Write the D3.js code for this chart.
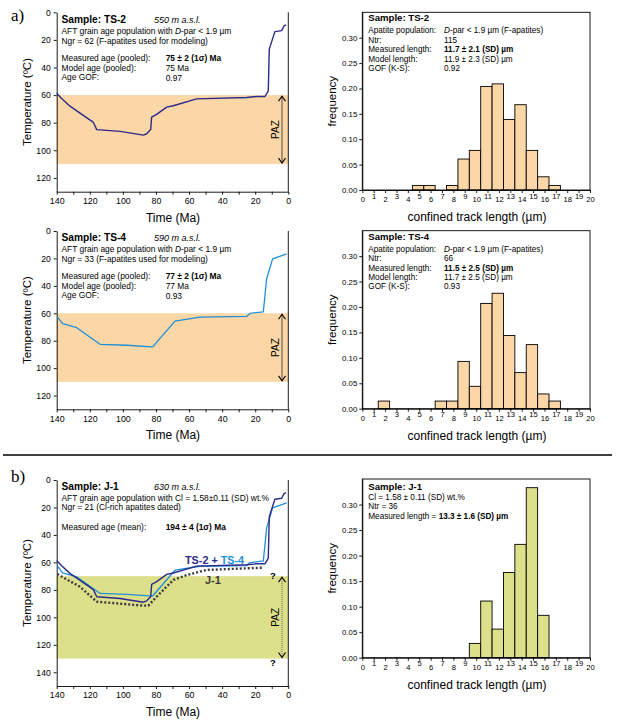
<!DOCTYPE html>
<meta charset="utf-8">
<style>
body { margin: 0; background: #fff; }
svg { font-family: "Liberation Sans", Arial, sans-serif; }
.axis path, .axis line { stroke: #000; stroke-width: 0.9; }
.axis text { fill: #000; }
</style>
<svg width="617" height="725"></svg>
<script src="https://d3js.org/d3.v7.min.js"></script>
<script>

// ---- time-temperature paths (Ma, degC) ----
var ts2Time = [140, 137, 132, 117.8, 115.8, 101.7, 87.6, 85.6, 83.2, 82.6, 79.6, 73.5, 69.5, 55.4, 25.2, 19.1, 14.1, 12.1, 11.5, 8.1, 4, 2.6, 1.4];
var ts2Temp = [58.6, 62.4, 68, 79.8, 85, 86.3, 89, 88, 85, 76, 74, 68.7, 67.7, 62.7, 61.7, 61, 61, 56.9, 26.7, 14, 13.3, 9.9, 9.2];

var ts4Time = [139.6, 136.4, 127.9, 113.8, 97.7, 82, 68.5, 53.4, 25.2, 23.2, 15.1, 13.1, 9.5, 1];
var ts4Temp = [62.6, 67.6, 70.5, 82.6, 83.3, 84.5, 65.7, 62.8, 62.3, 60.1, 58.9, 35, 20.3, 16.7];

var j1Time = [139.6, 136, 126, 115.8, 87.6, 84.6, 79.6, 69.5, 61.4, 49.4, 15.1];
var j1Temp = [68.4, 71, 77.7, 88.6, 91.5, 91.5, 85, 72.8, 69.2, 65.5, 63.8];

// ---- confined track length histograms ----
var binStart = [1.4, 2.4, 3.4, 4.4, 5.4, 6.4, 7.4, 8.4, 9.4, 10.4, 11.4, 12.4, 13.4, 14.4, 15.4, 16.4];
var ts2Freq = [0, 0, 0, 0.009, 0.009, 0, 0.009, 0.061, 0.078, 0.204, 0.209, 0.139, 0.168, 0.078, 0.026, 0.009];
var ts4Freq = [0.015, 0, 0, 0, 0, 0.015, 0.015, 0.093, 0.044, 0.207, 0.227, 0.144, 0.071, 0.126, 0.029, 0.015];
var j1Freq  = [0, 0, 0, 0, 0, 0, 0, 0, 0.028, 0.111, 0.056, 0.167, 0.222, 0.333, 0.083, 0];

var tempTicks = [0, 20, 40, 60, 80, 100, 120, 140];
var timeTicks = [140, 130, 120, 110, 100, 90, 80, 70, 60, 50, 40, 30, 20, 10, 0];
var freqTicks = [0, 0.05, 0.10, 0.15, 0.20, 0.25, 0.30];
var lenTicks = [0, 1, 2, 3, 4, 5, 6, 7, 8, 9, 10, 11, 12, 13, 14, 15, 16, 17, 18, 19, 20];

var navy = "#2c2a88", blue = "#1f8fd6", dotc = "#3a3a3a";
var peach = "#fbd6a6", olive = "#dde08b";

var svg = d3.select("svg");

var x = d3.scaleLinear().domain([140, 0]).range([56.7, 288.3]);
var xh = d3.scaleLinear().domain([0, 20]).range([362.3, 590]);

var TS = 8.4, HS = 8.2;   // small text sizes: T-t panels, histograms

function multi(g, xx, yy, size, segs) {
  var t = g.append("text").attr("x", xx).attr("y", yy).attr("font-size", size);
  segs.forEach(function(s) {
    if (typeof s === "string") s = {t: s};
    t.append("tspan").text(s.t)
      .attr("font-weight", s.b ? "bold" : null)
      .attr("font-style", s.i ? "italic" : null)
      .attr("fill", s.c || "#000");
  });
  return t;
}

function ttPanel(top, bottom, yMax, paz, fill, qmarks) {
  var y = d3.scaleLinear().domain([0, yMax]).range([top, bottom]);
  var g = svg.append("g");

  g.append("rect")
    .attr("x", x(140)).attr("width", x(0) - x(140))
    .attr("y", y(paz[0])).attr("height", y(paz[1]) - y(paz[0]))
    .attr("fill", fill);

  g.append("g").attr("class", "axis")
    .attr("transform", "translate(" + x(140) + ",0)")
    .call(d3.axisLeft(y).tickValues(tempTicks.filter(function(d) { return d < yMax; }))
      .tickSize(3).tickSizeOuter(0).tickPadding(3))
    .selectAll("text").attr("font-size", 8.6).attr("font-family", "Liberation Sans");

  g.append("g").attr("class", "axis")
    .attr("transform", "translate(0," + bottom + ")")
    .call(d3.axisBottom(x).tickValues(timeTicks).tickSize(3).tickSizeOuter(0).tickPadding(3)
      .tickFormat(function(d) { return d % 20 === 0 ? d : ""; }))
    .selectAll("text").attr("font-size", 8.8).attr("font-family", "Liberation Sans");

  g.append("line").attr("x1", x(0)).attr("x2", x(0)).attr("y1", top).attr("y2", bottom)
    .attr("stroke", "#000").attr("stroke-width", 0.9);

  // PAZ arrow
  var ax = 282;
  g.append("line").attr("x1", ax).attr("x2", ax).attr("y1", y(paz[0]) + 1).attr("y2", y(paz[1]) - 1)
    .attr("stroke", qmarks ? "#444" : "#5a4a3c").attr("stroke-width", qmarks ? 0.8 : 1)
    .attr("stroke-dasharray", qmarks ? "1,1" : null);
  [[paz[0], 1], [paz[1], -1]].forEach(function(p) {
    var yy = y(p[0]) + p[1] * 1;
    g.append("path")
      .attr("d", "M" + (ax - 3.5) + "," + (yy + p[1] * 5) + "L" + ax + "," + yy + "L" + (ax + 3.5) + "," + (yy + p[1] * 5))
      .attr("fill", "none").attr("stroke", "#000").attr("stroke-width", 1.1);
  });
  g.append("text")
    .attr("transform", "translate(" + 278.5 + "," + y((paz[0] + paz[1]) / 2) + ") rotate(-90)")
    .attr("text-anchor", "middle").attr("font-size", 10).text("PAZ");
  if (qmarks) {
    g.append("text").attr("x", 273).attr("y", y(paz[0]) + 3).attr("text-anchor", "middle")
      .attr("font-size", 9.5).attr("font-weight", "bold").text("?");
    g.append("text").attr("x", 273).attr("y", y(paz[1]) + 7).attr("text-anchor", "middle")
      .attr("font-size", 9.5).attr("font-weight", "bold").text("?");
  }

  g.append("text")
    .attr("transform", "translate(31," + ((top + bottom) / 2) + ") rotate(-90)")
    .attr("text-anchor", "middle").attr("font-size", 11.5).text("Temperature  (ºC)");
  g.append("text").attr("x", 173).attr("y", bottom + 30).attr("text-anchor", "middle")
    .attr("font-size", 12).text("Time  (Ma)");

  return {g: g, y: y};
}

function tPath(p, times, temps, color, width, dash) {
  var pts = times.map(function(t, i) { return [t, temps[i]]; });
  p.g.append("path")
    .attr("d", d3.line().x(function(d) { return x(d[0]); }).y(function(d) { return p.y(d[1]); })(pts))
    .attr("fill", "none").attr("stroke", color).attr("stroke-width", width)
    .attr("stroke-linejoin", "round")
    .attr("stroke-dasharray", dash || null);
}

function histPanel(top, bottom, freq, fill) {
  var y = d3.scaleLinear().domain([0, 0.35]).range([bottom, top]);
  var g = svg.append("g");
  var bins = binStart.map(function(b, i) { return {s: b, f: freq[i]}; })
    .filter(function(d) { return d.f > 0; });
  g.selectAll(".bar").data(bins).enter().append("rect")
    .attr("x", function(d) { return xh(d.s); })
    .attr("width", function(d) { return xh(d.s + 1) - xh(d.s); })
    .attr("y", function(d) { return y(d.f); })
    .attr("height", function(d) { return y(0) - y(d.f); })
    .attr("fill", fill).attr("stroke", "#000").attr("stroke-width", 0.9);

  g.append("rect").attr("x", xh(0)).attr("y", top).attr("width", xh(20) - xh(0))
    .attr("height", bottom - top).attr("fill", "none").attr("stroke", "#000").attr("stroke-width", 0.9);

  g.append("g").attr("class", "axis")
    .attr("transform", "translate(" + xh(0) + ",0)")
    .call(d3.axisLeft(y).tickValues(freqTicks).tickSize(3).tickSizeOuter(0).tickPadding(2)
      .tickFormat(d3.format(".2f")))
    .selectAll("text").attr("font-size", 7.8).attr("font-family", "Liberation Sans");

  var xa = g.append("g").attr("class", "axis")
    .attr("transform", "translate(0," + bottom + ")")
    .call(d3.axisBottom(xh).tickValues(lenTicks).tickSize(3).tickSizeOuter(0).tickPadding(3));
  xa.selectAll("text").attr("font-size", 7.6).attr("font-family", "Liberation Sans")
    .attr("dy", function(d) { return d % 2 ? "0.35em" : "0.85em"; });

  g.append("text")
    .attr("transform", "translate(336," + ((top + bottom) / 2) + ") rotate(-90)")
    .attr("text-anchor", "middle").attr("font-size", 11.5).text("frequency");
  g.append("text").attr("x", 477).attr("y", bottom + 31).attr("text-anchor", "middle")
    .attr("font-size", 12).text("confined track length  (µm)");
  return g;
}

// ---------- a) TS-2 ----------
var p1 = ttPanel(12.3, 191.7, 130, [60, 110], peach, false);
tPath(p1, ts2Time, ts2Temp, navy, 1.4);
multi(p1.g, 61.5, 22.5, 10.2, [{t: "Sample: TS-2", b: 1}]);
multi(p1.g, 154, 22.5, 9, [{t: "550 m a.s.l.", i: 1}]);
multi(p1.g, 61.5, 33.8, TS, ["AFT grain age population with ", {t: "D", i: 1}, "-par < 1.9 µm"]);
multi(p1.g, 61.5, 43.5, TS, ["Ngr  = 62 (F-apatites used for modeling)"]);
multi(p1.g, 61.5, 61.3, TS, ["Measured age (pooled):"]);
multi(p1.g, 165.7, 61.3, TS, [{t: "75 ± 2 (1σ) Ma", b: 1}]);
multi(p1.g, 61.5, 70.6, TS, ["Model age (pooled):"]);
multi(p1.g, 165.7, 70.6, TS, ["75 Ma"]);
multi(p1.g, 61.5, 79.8, TS, ["Age GOF:"]);
multi(p1.g, 165.7, 81.2, TS, ["0.97"]);

var h1 = histPanel(12.3, 190, ts2Freq, peach);
multi(h1, 368.3, 21, 9.6, [{t: "Sample: TS-2", b: 1}]);
var hl1 = [["Apatite population:", [{t: "D", i: 1}, "-par < 1.9 µm (F-apatites)"]],
           ["Ntr:", ["115"]],
           ["Measured length:", [{t: "11.7 ± 2.1 (SD) µm", b: 1}]],
           ["Model length:", ["11.9 ± 2.3 (SD) µm"]],
           ["GOF (K-S):", ["0.92"]]];
hl1.forEach(function(l, i) {
  multi(h1, 368.3, 33.3 + i * 9.4, HS, [l[0]]);
  multi(h1, 444, 33.3 + i * 9.4, HS, l[1]);
});

// ---------- a) TS-4 ----------
var p2 = ttPanel(231, 409.3, 130, [60, 110], peach, false);
tPath(p2, ts4Time, ts4Temp, blue, 1.3);
multi(p2.g, 61.5, 241, 10.2, [{t: "Sample: TS-4", b: 1}]);
multi(p2.g, 154, 241, 9, [{t: "590 m a.s.l.", i: 1}]);
multi(p2.g, 61.5, 252.2, TS, ["AFT grain age population with ", {t: "D", i: 1}, "-par < 1.9 µm"]);
multi(p2.g, 61.5, 261.6, TS, ["Ngr  = 33 (F-apatites used for modeling)"]);
multi(p2.g, 61.5, 279.3, TS, ["Measured age (pooled):"]);
multi(p2.g, 165.7, 279.3, TS, [{t: "77 ± 2 (1σ) Ma", b: 1}]);
multi(p2.g, 61.5, 288.6, TS, ["Model age (pooled):"]);
multi(p2.g, 165.7, 288.6, TS, ["77 Ma"]);
multi(p2.g, 61.5, 297.8, TS, ["Age GOF:"]);
multi(p2.g, 165.7, 299.3, TS, ["0.93"]);

var h2 = histPanel(230.7, 408.7, ts4Freq, peach);
multi(h2, 368.3, 239.5, 9.6, [{t: "Sample: TS-4", b: 1}]);
var hl2 = [["Apatite population:", [{t: "D", i: 1}, "-par < 1.9 µm (F-apatites)"]],
           ["Ntr:", ["66"]],
           ["Measured length:", [{t: "11.5 ± 2.5 (SD) µm", b: 1}]],
           ["Model length:", ["11.7 ± 2.5 (SD) µm"]],
           ["GOF (K-S):", ["0.93"]]];
hl2.forEach(function(l, i) {
  multi(h2, 368.3, 251.8 + i * 9.4, HS, [l[0]]);
  multi(h2, 444, 251.8 + i * 9.4, HS, l[1]);
});

// separator
svg.append("line").attr("x1", 3).attr("x2", 612).attr("y1", 455).attr("y2", 455)
  .attr("stroke", "#000").attr("stroke-width", 1.3);

// ---------- b) J-1 ----------
var p3 = ttPanel(480, 686, 150, [70, 130], olive, true);
tPath(p3, j1Time, j1Temp, dotc, 2.4, "2,2");
tPath(p3, ts4Time, ts4Temp, blue, 1.3);
tPath(p3, ts2Time, ts2Temp, navy, 1.4);
multi(p3.g, 61.5, 490.3, 10.2, [{t: "Sample: J-1", b: 1}]);
multi(p3.g, 154, 490.3, 9, [{t: "630 m a.s.l.", i: 1}]);
multi(p3.g, 61.5, 500.8, TS, ["AFT grain age population with Cl = 1.58±0.11 (SD) wt.%"]);
multi(p3.g, 61.5, 510.3, TS, ["Ngr  = 21 (Cl-rich apatites dated)"]);
multi(p3.g, 61.5, 529.6, TS, ["Measured age (mean):"]);
multi(p3.g, 165.7, 529.6, TS, [{t: "194 ± 4 (1σ) Ma", b: 1}]);
multi(p3.g, 185, 564, 10.8, [{t: "TS-2 + ", b: 1, c: navy}, {t: "TS-4", b: 1, c: blue}]);
multi(p3.g, 205, 583.5, 11, [{t: "J-1", b: 1, c: dotc}]);

var h3 = histPanel(479, 657.7, j1Freq, olive);
multi(h3, 368.3, 489.5, 9.6, [{t: "Sample: J-1", b: 1}]);
multi(h3, 368.3, 499.8, HS, ["Cl = 1.58 ± 0.11 (SD) wt.%"]);
multi(h3, 368.3, 509.2, HS, ["Ntr = 36"]);
multi(h3, 368.3, 519, HS, ["Measured length = ", {t: "13.3 ± 1.6 (SD) µm", b: 1}]);

// panel letters
svg.append("text").attr("x", 11).attr("y", 21).attr("font-family", "Liberation Serif")
  .attr("font-size", 17).text("a)");
svg.append("text").attr("x", 11).attr("y", 482).attr("font-family", "Liberation Serif")
  .attr("font-size", 17).text("b)");

</script>
